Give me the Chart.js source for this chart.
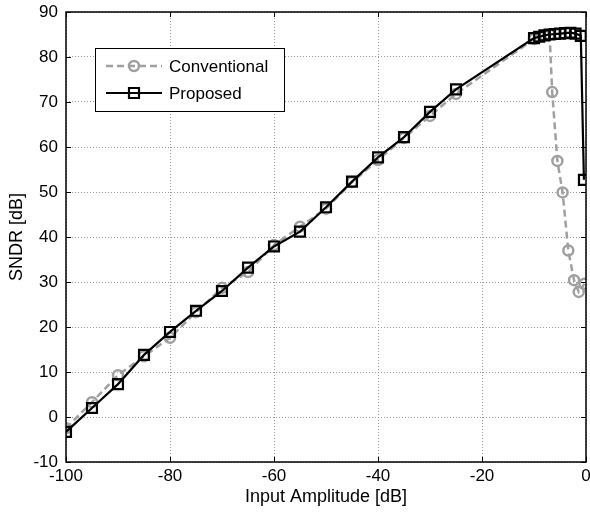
<!DOCTYPE html>
<html>
<head>
<meta charset="utf-8">
<script src="https://cdn.jsdelivr.net/npm/chart.js@4"></script>
<style>
  html, body { margin: 0; padding: 0; background: #fff; }
  #wrap { width: 590px; height: 512px; }
</style>
</head>
<body>
<div id="wrap"><canvas id="c" width="590" height="512"></canvas></div>
<script>
// input amplitude [dB]
const convX = [-100, -95, -90, -85, -80, -75, -70, -65, -60, -55, -50, -45, -40, -35, -30, -25,
  -10, -9, -8, -7, -6.5, -5.5, -4.5, -3.4, -2.3, -1.4, -0.3]
const convY = [-2.5, 3.3, 9.3, 13.5, 17.6, 23.3, 28.7, 32.2, 38.2, 42.3, 46.3, 52.2, 57.1, 62, 66.9, 71.8,
  84, 84.5, 84.8, 85, 72.2, 56.9, 49.9, 37, 30.4, 27.8, 29.6]

const propX = [-100, -95, -90, -85, -80, -75, -70, -65, -60, -55, -50, -45, -40, -35, -30, -25,
  -10, -9, -8, -7, -6, -5, -4, -3, -2, -1, -0.4]
const propY = [-3.3, 2, 7.3, 13.8, 18.9, 23.6, 28, 33.2, 37.9, 41.2, 46.6, 52.3, 57.7, 62.2, 67.8, 72.8,
  84.2, 84.5, 84.8, 85, 85.1, 85.2, 85.3, 85.4, 85.2, 84.7, 52.7]

const seriesNames = ['Conventional', 'Proposed']
const xTicks = [-100, -80, -60, -40, -20, 0]
const yTicks = [-10, 0, 10, 20, 30, 40, 50, 60, 70, 80, 90]

const FONT = 'Liberation Sans, Arial, sans-serif'

function pts(xs, ys) {
  return xs.map((x, i) => ({ x: x, y: ys[i] }))
}

// box around the plot + matlab style inward ticks
const boxPlugin = {
  id: 'box',
  afterDraw(chart) {
    const ctx = chart.ctx
    const a = chart.chartArea
    const sx = chart.scales.x
    const sy = chart.scales.y
    ctx.save()
    ctx.strokeStyle = '#000'
    ctx.lineWidth = 1
    ctx.beginPath()
    xTicks.forEach(v => {
      const px = Math.round(sx.getPixelForValue(v)) + 0.5
      ctx.moveTo(px, a.bottom); ctx.lineTo(px, a.bottom - 5)
      ctx.moveTo(px, a.top); ctx.lineTo(px, a.top + 5)
    })
    yTicks.forEach(v => {
      const py = Math.round(sy.getPixelForValue(v)) + 0.5
      ctx.moveTo(a.left, py); ctx.lineTo(a.left + 5, py)
      ctx.moveTo(a.right, py); ctx.lineTo(a.right - 5, py)
    })
    ctx.stroke()
    ctx.lineWidth = 1.5
    ctx.strokeRect(a.left, a.top, a.right - a.left, a.bottom - a.top)
    ctx.restore()
  }
}

// legend drawn as a boxed inset, upper left
const legendPlugin = {
  id: 'insetLegend',
  afterDraw(chart) {
    const ctx = chart.ctx
    const a = chart.chartArea
    const x0 = a.left + 29, y0 = a.top + 36, w = 189, h = 63
    ctx.save()
    ctx.fillStyle = '#fff'
    ctx.fillRect(x0, y0, w, h)
    ctx.strokeStyle = '#000'
    ctx.lineWidth = 1
    ctx.strokeRect(x0 + 0.5, y0 + 0.5, w, h)
    chart.data.datasets.forEach((ds, i) => {
      const cy = y0 + 18 + i * 27
      const lx1 = x0 + 11, lx2 = x0 + 67, mx = (lx1 + lx2) / 2
      ctx.strokeStyle = ds.borderColor
      ctx.lineWidth = ds.borderWidth
      ctx.setLineDash(ds.borderDash || [])
      ctx.beginPath()
      ctx.moveTo(lx1, cy); ctx.lineTo(lx2, cy)
      ctx.stroke()
      ctx.setLineDash([])
      ctx.lineWidth = ds.pointBorderWidth
      ctx.beginPath()
      if (ds.pointStyle === 'rect') {
        ctx.rect(mx - 5, cy - 5, 10, 10)
      } else {
        ctx.arc(mx, cy, ds.pointRadius, 0, Math.PI * 2)
      }
      ctx.stroke()
      ctx.fillStyle = '#000'
      ctx.font = '17px ' + FONT
      ctx.textBaseline = 'middle'
      ctx.textAlign = 'left'
      ctx.fillText(ds.label, x0 + 74, cy + 1)
    })
    ctx.restore()
  }
}

const ctx = document.getElementById('c').getContext('2d')

new Chart(ctx, {
  type: 'scatter',
  data: {
    datasets: [
      {
        label: seriesNames[0],
        data: pts(convX, convY),
        showLine: true,
        order: 1,
        borderColor: '#a0a0a0',
        borderWidth: 2.5,
        borderDash: [7, 4],
        pointStyle: 'circle',
        pointRadius: 5,
        pointBorderWidth: 2.5,
        pointBorderColor: '#a0a0a0',
        pointBackgroundColor: 'rgba(0,0,0,0)'
      },
      {
        label: seriesNames[1],
        data: pts(propX, propY),
        showLine: true,
        order: 0,
        borderColor: '#000',
        borderWidth: 2.2,
        pointStyle: 'rect',
        pointRadius: 7,
        pointBorderWidth: 2.2,
        pointBorderColor: '#000',
        pointBackgroundColor: 'rgba(0,0,0,0)'
      }
    ]
  },
  options: {
    responsive: false,
    animation: false,
    // point size would otherwise pad the plot area
    layout: { autoPadding: false, padding: { top: 12, right: 4, left: 0, bottom: 0 } },
    plugins: {
      legend: { display: false },
      tooltip: { enabled: false }
    },
    scales: {
      x: {
        type: 'linear',
        min: -100,
        max: 0,
        afterFit(scale) {
          scale.height = 50
          scale.paddingLeft = 0
          scale.paddingRight = 0
        },
        afterBuildTicks(scale) { scale.ticks = xTicks.map(v => ({ value: v })) },
        grid: { color: '#999', lineWidth: 1, drawTicks: false },
        border: { display: false, dash: [1, 2] },
        ticks: {
          color: '#000',
          padding: 4,
          font: { family: FONT, size: 17 }
        },
        title: {
          display: true,
          text: 'Input Amplitude [dB]',
          color: '#000',
          padding: { top: 0 },
          font: { family: FONT, size: 18 }
        }
      },
      y: {
        min: -10,
        max: 90,
        afterFit(scale) {
          scale.width = 66
          scale.paddingTop = 0
          scale.paddingBottom = 0
        },
        afterBuildTicks(scale) { scale.ticks = yTicks.map(v => ({ value: v })) },
        grid: { color: '#999', lineWidth: 1, drawTicks: false },
        border: { display: false, dash: [1, 2] },
        ticks: {
          color: '#000',
          padding: 8,
          font: { family: FONT, size: 17 }
        },
        title: {
          display: true,
          text: 'SNDR [dB]',
          color: '#000',
          padding: { top: 6, bottom: 0 },
          font: { family: FONT, size: 18 }
        }
      }
    }
  },
  plugins: [boxPlugin, legendPlugin]
})
</script>
</body>
</html>
